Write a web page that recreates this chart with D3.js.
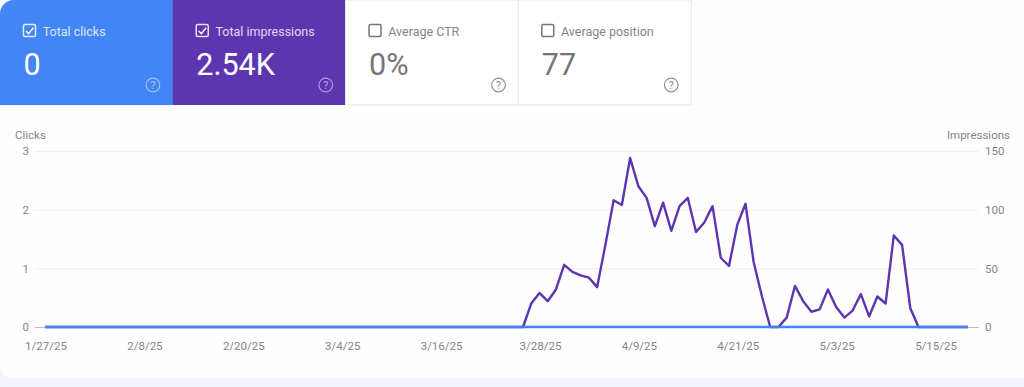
<!DOCTYPE html>
<html>
<head>
<meta charset="utf-8">
<script src="https://cdnjs.cloudflare.com/ajax/libs/d3/7.8.5/d3.min.js"></script>
<style>
html, body { margin: 0; padding: 0; background: #f1f5fb; overflow: hidden; }
svg { display: block; font-family: Roboto, sans-serif; }
.axis-title { fill: #80868b; font-size: 11.5px; }
</style>
</head>
<body>
<svg id="chart" width="1024" height="387"></svg>
<script>
const cardNames = ["Total clicks", "Total impressions", "Average CTR", "Average position"]
const cardValues = ["0", "2.54K", "0%", "77"]
const cardChecked = [true, true, false, false]
const cardFills = ["#4285f4", "#5e35b1", "#ffffff", "#ffffff"]

const startDate = "1/27/25"
const dateTicks = ["1/27/25", "2/8/25", "2/20/25", "3/4/25", "3/16/25", "3/28/25", "4/9/25", "4/21/25", "5/3/25", "5/15/25"]
const clickTicks = [0, 1, 2, 3]
const impressionTicks = [0, 50, 100, 150]

// one value per day from 1/27/25
const impressions = [
    0, 0, 0, 0, 0, 0, 0, 0, 0, 0, 0, 0, 0, 0, 0, 0, 0, 0, 0, 0,
    0, 0, 0, 0, 0, 0, 0, 0, 0, 0, 0, 0, 0, 0, 0, 0, 0, 0, 0, 0,
    0, 0, 0, 0, 0, 0, 0, 0, 0, 0, 0, 0, 0, 0, 0, 0, 0, 0, 0, 20,
    29, 22, 32, 53, 47, 44, 42, 34, 70, 108, 104, 144, 120, 110, 86, 106, 82, 103, 110, 81,
    89, 103, 59, 52, 87, 105, 55, 26, 0, 0, 8, 35, 22, 13, 15, 32, 17, 8, 14, 28,
    9, 26, 20, 78, 70, 16, 0, 0, 0, 0, 0, 0, 0
]
const clicks = [
    0, 0, 0, 0, 0, 0, 0, 0, 0, 0, 0, 0, 0, 0, 0, 0, 0, 0, 0, 0,
    0, 0, 0, 0, 0, 0, 0, 0, 0, 0, 0, 0, 0, 0, 0, 0, 0, 0, 0, 0,
    0, 0, 0, 0, 0, 0, 0, 0, 0, 0, 0, 0, 0, 0, 0, 0, 0, 0, 0, 0,
    0, 0, 0, 0, 0, 0, 0, 0, 0, 0, 0, 0, 0, 0, 0, 0, 0, 0, 0, 0,
    0, 0, 0, 0, 0, 0, 0, 0, 0, 0, 0, 0, 0, 0, 0, 0, 0, 0, 0, 0,
    0, 0, 0, 0, 0, 0, 0, 0, 0, 0, 0, 0, 0
]

const svg = d3.select("#chart")
const parse = d3.utcParse("%-m/%-d/%y")
const format = d3.utcFormat("%-m/%-d/%y")
const day0 = parse(startDate)
const dayOf = i => d3.utcDay.offset(day0, i)

// page card
svg.append("path")
    .attr("d", "M0,0H1024V378H12A12,12 0 0 1 0,366Z")
    .attr("fill", "#fefefe")

// metric cards
const cardW = 173, cardH = 105
const cards = svg.selectAll(".card")
    .data(cardNames)
    .join("g")
    .attr("class", "card")
    .attr("transform", (d, i) => `translate(${i * 172.75},0)`)

cards.append("path")
    .attr("d", (d, i) => i == 0
        ? `M0,14A14,14 0 0 1 14,0H${cardW}V${cardH}H0Z`
        : `M0,0H${cardW}V${cardH}H0Z`)
    .attr("fill", (d, i) => cardFills[i])
    .attr("stroke", (d, i) => i > 1 ? "#e3e5e8" : "none")

const cardInk = i => cardChecked[i] ? "#ffffff" : "#757575"

cards.append("rect")
    .attr("x", 23.5).attr("y", 24.5)
    .attr("width", 12).attr("height", 12).attr("rx", 1.5)
    .attr("fill", "none")
    .attr("stroke", (d, i) => cardInk(i))
    .attr("stroke-width", 1.5)
    .attr("opacity", (d, i) => cardChecked[i] ? 0.85 : 1)

cards.filter((d, i) => cardChecked[i]).append("path")
    .attr("d", "M26,31L28.6,33.6L33.4,27.8")
    .attr("fill", "none")
    .attr("stroke", "#ffffff")
    .attr("stroke-width", 1.4)

cards.append("text")
    .attr("x", 42.7).attr("y", 35.5)
    .attr("font-size", 12.5)
    .attr("fill", (d, i) => cardChecked[i] ? "#ffffff" : "#80868b")
    .attr("opacity", (d, i) => cardChecked[i] ? 0.8 : 1)
    .text(d => d)

cards.append("text")
    .attr("x", 23.5).attr("y", 75)
    .attr("font-size", 30.5)
    .attr("fill", (d, i) => cardInk(i))
    .text((d, i) => cardValues[i])

cards.append("circle")
    .attr("cx", 153).attr("cy", 85).attr("r", 6.8)
    .attr("fill", "none")
    .attr("stroke", (d, i) => cardInk(i))
    .attr("stroke-width", 1.2)
    .attr("opacity", (d, i) => cardChecked[i] ? 0.5 : 0.8)

cards.append("text")
    .attr("x", 153).attr("y", 88.7)
    .attr("text-anchor", "middle")
    .attr("font-size", 10.5)
    .attr("fill", (d, i) => cardInk(i))
    .attr("opacity", (d, i) => cardChecked[i] ? 0.55 : 0.85)
    .text("?")

// scales
const x = d3.scaleUtc()
    .domain([day0, dayOf(impressions.length - 1)])
    .range([45, 968])
const yClicks = d3.scaleLinear().domain([0, 3]).range([327, 151])
const yImpr = d3.scaleLinear().domain([0, 150]).range([327, 151])

// left axis carries the gridlines
const leftAxis = svg.append("g")
    .attr("transform", "translate(35,0)")
    .call(d3.axisLeft(yClicks).tickValues(clickTicks).tickFormat(d3.format("d")).tickSize(0).tickPadding(6))
leftAxis.select(".domain").remove()
leftAxis.selectAll(".tick").append("line")
    .attr("x2", 944)
    .attr("stroke", d => d == 0 ? "#bdbdbd" : "#f1f1f3")

const rightAxis = svg.append("g")
    .attr("transform", "translate(979,0)")
    .call(d3.axisRight(yImpr).tickValues(impressionTicks).tickSize(0).tickPadding(6))
rightAxis.select(".domain").remove()

const bottomAxis = svg.append("g")
    .attr("transform", "translate(0.5,339)")
    .call(d3.axisBottom(x).tickValues(dateTicks.map(parse)).tickFormat(format).tickSize(0).tickPadding(3))
bottomAxis.select(".domain").remove()

svg.selectAll(".tick text")
    .style("font-family", "Roboto, sans-serif")
    .style("font-size", "11.5px")
    .style("fill", "#80868b")

svg.append("text").attr("class", "axis-title")
    .attr("x", 15).attr("y", 139)
    .text("Clicks")
svg.append("text").attr("class", "axis-title")
    .attr("x", 1010).attr("y", 139)
    .attr("text-anchor", "end")
    .text("Impressions")

// series
const imprLine = d3.line().x((d, i) => x(dayOf(i))).y(d => yImpr(d))
const clickLine = d3.line().x((d, i) => x(dayOf(i))).y(d => yClicks(d))

svg.append("path")
    .datum(impressions)
    .attr("d", imprLine)
    .attr("fill", "none")
    .attr("stroke", "#5e35b1")
    .attr("stroke-width", 2.4)
    .attr("stroke-linejoin", "round")

svg.append("path")
    .datum(clicks)
    .attr("d", clickLine)
    .attr("fill", "none")
    .attr("stroke", "#4285f4")
    .attr("stroke-width", 2.4)
</script>
</body>
</html>
